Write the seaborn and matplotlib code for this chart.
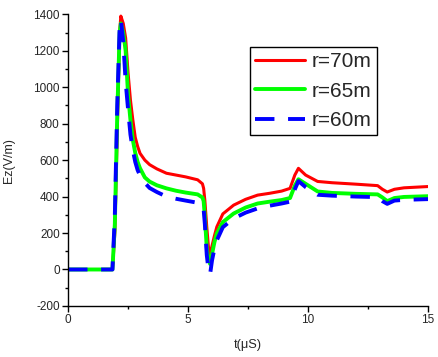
"""Ez field waveforms at three distances."""

import matplotlib
import pandas as pd
import seaborn as sns
from matplotlib.ticker import MultipleLocator

matplotlib.use("Agg")
import matplotlib.pyplot as plt

# time axis (microseconds), shared by the three curves
t_us = [0, 1.85, 1.95, 2.05, 2.15, 2.2, 2.3, 2.4, 2.5, 2.6, 2.7, 2.8, 2.9, 3.0,
        3.2, 3.4, 3.7, 4.1, 4.5, 4.9, 5.4, 5.6, 5.65, 5.7, 5.78, 5.85, 5.92,
        6.0, 6.1, 6.2, 6.45, 6.9, 7.4, 7.9, 8.4, 8.9, 9.25, 9.45, 9.6, 9.9,
        10.4, 11, 12, 12.9, 13.1, 13.3, 13.6, 14, 15]

ez_70m = [0, 0, 200, 750, 1300, 1390, 1350, 1270, 1080, 930, 820, 725, 675, 637,
          600, 575, 552, 528, 518, 508, 492, 470, 445, 380, 234, 124, 85,
          130, 185, 234, 305, 353, 385, 408, 418, 430, 445, 518, 555, 518,
          483, 476, 468, 460, 440, 425, 440, 448, 455]

ez_65m = [0, 0, 250, 850, 1300, 1350, 1300, 1200, 960, 820, 710, 640, 590, 555,
          505, 482, 462, 445, 432, 422, 412, 395, 375, 290, 120, 55, 30,
          85, 150, 198, 260, 307, 340, 362, 372, 381, 392, 460, 495, 470,
          428, 420, 415, 412, 395, 375, 392, 398, 402]

ez_60m = [0, 0, 300, 900, 1330, 1370, 1250, 1030, 880, 740, 655, 590, 545, 515,
          475, 447, 425, 400, 388, 378, 366, 345, 330, 250, 80, 0, -25,
          50, 115, 160, 232, 280, 312, 335, 350, 362, 372, 440, 485, 452,
          410, 405, 400, 397, 375, 360, 378, 382, 386]

labels = ["r=70m", "r=65m", "r=60m"]
colors = ["#ff0000", "#00ff00", "#0000ff"]

sns.set_style("ticks")
plt.rcParams["font.family"] = ["Liberation Sans", "DejaVu Sans"]
plt.rcParams["axes.unicode_minus"] = False

fig = plt.figure(figsize=(4.39, 3.57), dpi=100)
ax = fig.add_axes([0.155, 0.143, 0.82, 0.817])

series = [ez_70m, ez_65m, ez_60m]
widths = [2.2, 2.8, 2.8]
for values, label, color, lw in zip(series, labels, colors, widths):
    df = pd.DataFrame({"t": t_us, "ez": values})
    sns.lineplot(data=df, x="t", y="ez", ax=ax, color=color, lw=lw, label=label)

ax.lines[2].set_dashes([5, 3.5])

ax.set_xlim(0, 15)
ax.set_ylim(-200, 1400)
ax.xaxis.set_major_locator(MultipleLocator(5))
ax.xaxis.set_minor_locator(MultipleLocator(2.5))
ax.yaxis.set_major_locator(MultipleLocator(200))
ax.yaxis.set_minor_locator(MultipleLocator(100))
ax.tick_params(which="major", length=4, width=1, labelsize=8.5, color="black", pad=2)
ax.tick_params(which="minor", length=2.5, width=1, color="black")
sns.despine(ax=ax)
for side in ["left", "bottom"]:
    ax.spines[side].set_color("black")
    ax.spines[side].set_linewidth(1)

ax.set_xlabel("t(μS)", fontsize=9.2, labelpad=9)
ax.set_ylabel("Ez(V/m)", fontsize=9, labelpad=13)

leg = ax.legend(loc="upper left", bbox_to_anchor=(0.506, 0.888), borderaxespad=0,
                fontsize=15, handlelength=2.4, handletextpad=0.3, labelspacing=0.5,
                borderpad=0.25, fancybox=False, framealpha=1, edgecolor="black")
leg.get_frame().set_linewidth(1)

fig.savefig("out.png", dpi=100)
plt.close(fig)
